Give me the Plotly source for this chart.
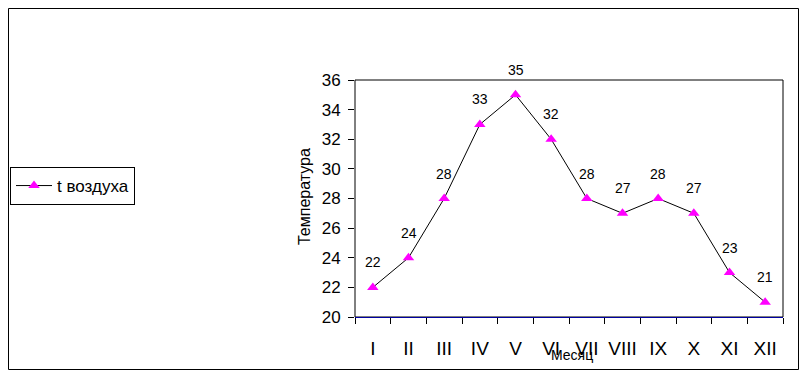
import plotly.graph_objects as go

months = ["I", "II", "III", "IV", "V", "VI", "VII", "VIII", "IX", "X", "XI", "XII"]
temps = [22, 24, 28, 33, 35, 32, 28, 27, 28, 27, 23, 21]
series_name = "t воздуха"

OFF = 8  # page body margin
W, H = 791, 362
L, R, T, B = 355 - OFF, 783 - OFF, 80 - OFF, 317 - OFF
pw, ph = R - L, B - T

def px(x):
    return (x - OFF - L) / pw

def py(y):
    return (B - (y - OFF)) / ph

FONT = "Liberation Sans, Arial, sans-serif"

fig = go.Figure()
fig.add_trace(go.Scatter(
    x=months, y=temps, mode="lines+markers", name=series_name,
    line=dict(color="black", width=1),
    marker=dict(symbol="triangle-up", size=10, color="#FF00FF"),
))

annotations = []
for m, t in zip(months, temps):
    annotations.append(dict(x=m, y=t, xref="x", yref="y", text=str(t), showarrow=False,
                            yshift=25, font=dict(size=14, color="black", family=FONT)))
annotations.append(dict(x=px(572), y=py(355), xref="paper", yref="paper", text="Месяц",
                        xanchor="center", yanchor="middle",
                        showarrow=False, font=dict(size=14, color="black", family=FONT)))
annotations.append(dict(x=px(304), y=py(197), xref="paper", yref="paper", text="Температура",
                        xanchor="center", yanchor="middle",
                        showarrow=False, textangle=-90, font=dict(size=16, color="black", family=FONT)))

shapes = [
    dict(type="rect", xref="paper", yref="paper", x0=px(8.5), x1=px(798.5), y0=py(369.5), y1=py(8.5),
         line=dict(color="black", width=1), layer="below"),
    dict(type="rect", xref="paper", yref="paper", x0=0, x1=1, y0=0, y1=1,
         line=dict(color="black", width=1), layer="below"),
]

fig.update_layout(
    width=W, height=H,
    margin=dict(l=L, r=W - R, t=T, b=H - B, autoexpand=False),
    paper_bgcolor="white", plot_bgcolor="white",
    font=dict(family=FONT, color="black"),
    showlegend=True,
    legend=dict(x=px(10), y=py(167), xanchor="left", yanchor="top",
                bordercolor="black", borderwidth=1, bgcolor="white", itemwidth=36,
                font=dict(size=17, family=FONT), tracegroupgap=0),
    annotations=annotations,
    shapes=shapes,
    xaxis=dict(type="category", range=[-0.5, len(months) - 0.5], autorange=False,
               showgrid=False, showline=True, linecolor="#0000A0", linewidth=1,
               ticks="outside", ticklen=6, tickcolor="black", tickson="boundaries", tickangle=0,
               tickfont=dict(size=19, family=FONT), ticklabelstandoff=14, zeroline=False),
    yaxis=dict(range=[20, 36], dtick=2, showgrid=False, showline=False,
               ticks="outside", ticklen=6, tickcolor="black", ticklabelstandoff=4,
               tickfont=dict(size=17, family=FONT), zeroline=False),
)

fig.write_html("out.html")
